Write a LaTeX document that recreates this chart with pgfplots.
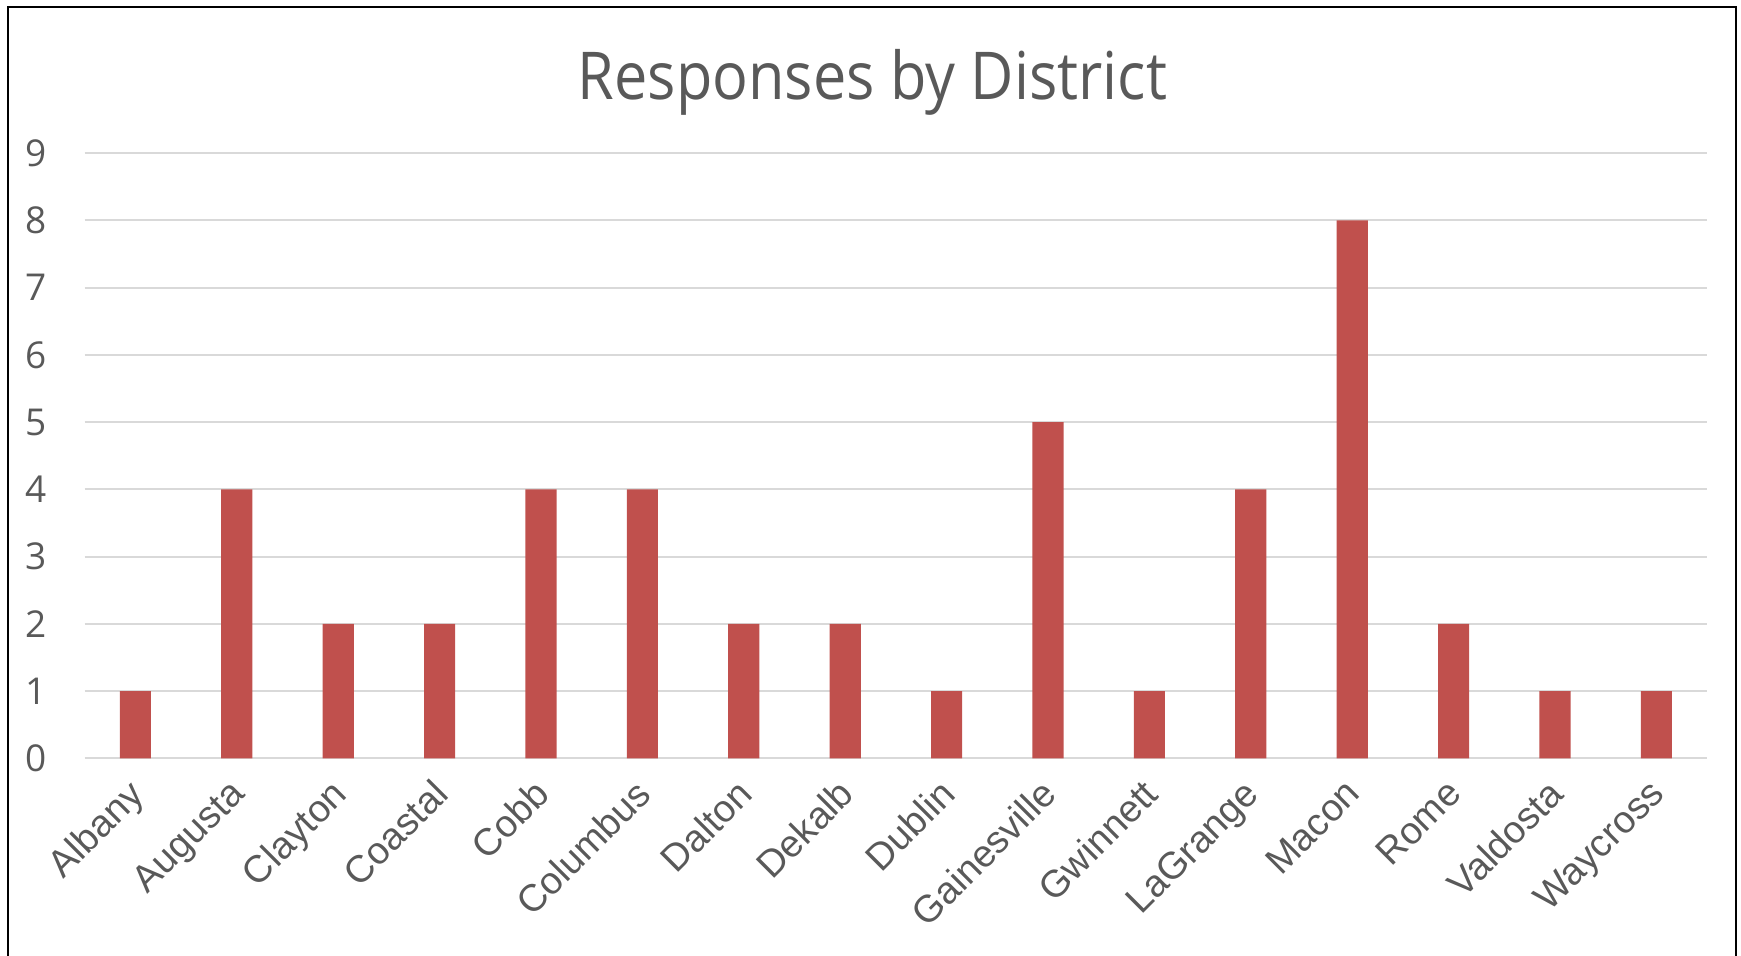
\documentclass[border=0pt]{standalone}
\usepackage{fontspec}
\setmainfont{Open Sans}
\newfontfamily\arialfont{Liberation Sans}
\usepackage{pgfplots}
\pgfplotsset{compat=1.18}
\definecolor{barred}{HTML}{C0504D}
\definecolor{txtgray}{HTML}{595959}
\definecolor{gridgray}{HTML}{D9D9D9}

\begin{document}
\begin{tikzpicture}
\useasboundingbox (0,0) rectangle (870.5pt,477.5pt);
% chart frame (open at the bottom edge)
\draw[line width=1.3pt] (4pt,-10pt) -- (4pt,474pt) -- (868pt,474pt) -- (868pt,-10pt);
% title
\node[txtgray, anchor=base, inner sep=0pt] at (436.25pt,427.5pt)
  {\scalebox{0.9}[1]{\fontsize{33}{40}\selectfont Responses by District}};
\begin{axis}[
  at={(42.35pt,98.35pt)}, anchor=south west,
  scale only axis, width=811.2pt, height=302.6pt,
  xmin=-0.5, xmax=15.5, ymin=0, ymax=9,
  ytick={0,...,9}, xtick={0,...,15},
  xticklabels={Albany,Augusta,Clayton,Coastal,Cobb,Columbus,Dalton,Dekalb,Dublin,Gainesville,Gwinnett,LaGrange,Macon,Rome,Valdosta,Waycross},
  axis line style={draw=none},
  major tick length=0pt,
  ymajorgrids, grid style={gridgray, line width=1pt},
  /pgf/number format/assume math mode=true,
  yticklabel style={font=\fontsize{18.5}{22}\selectfont, text=txtgray, anchor=east, inner sep=0pt, xshift=-19pt},
  % shifts given after the rotation act along the rotated label
  xticklabel style={font=\arialfont\fontsize{19}{23}\selectfont, text=txtgray, rotate=45, anchor=north east, inner sep=0pt, xshift=-9.7pt, yshift=-3.5pt},
]
\addplot[ybar, bar width=0.307, fill=barred, draw=none] coordinates {
  (0,1) (1,4) (2,2) (3,2) (4,4) (5,4) (6,2) (7,2)
  (8,1) (9,5) (10,1) (11,4) (12,8) (13,2) (14,1) (15,1)
};
\end{axis}
\end{tikzpicture}
\end{document}
